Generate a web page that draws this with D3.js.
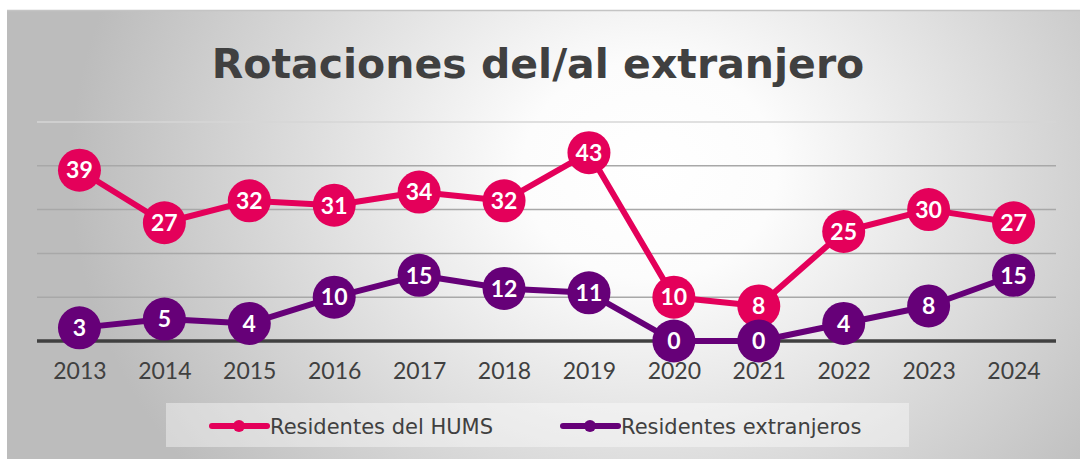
<!DOCTYPE html>
<html>
<head>
<meta charset="utf-8">
<script src="https://cdn.jsdelivr.net/npm/d3@7"></script>
<style>
  html, body { margin: 0; padding: 0; background: #fff; }
  svg { display: block; }
</style>
</head>
<body>
<div id="chart"></div>
<script>
const years = ["2013", "2014", "2015", "2016", "2017", "2018", "2019", "2020", "2021", "2022", "2023", "2024"];
const residentesHUMS = [39, 27, 32, 31, 34, 32, 43, 10, 8, 25, 30, 27];
const residentesExtranjeros = [3, 5, 4, 10, 15, 12, 11, 0, 0, 4, 8, 15];
const yTicks = [0, 10, 20, 30, 40, 50];

const series = [
  { name: "Residentes del HUMS", values: residentesHUMS, color: "#e4005a" },
  { name: "Residentes extranjeros", values: residentesExtranjeros, color: "#660078" },
];

const width = 1080;
const height = 459;
const plot = { left: 37, right: 1056, top: 122, bottom: 341 };

const svg = d3.select("#chart").append("svg")
  .attr("width", width)
  .attr("height", height);

// background with a radial gradient like the original chart area
const defs = svg.append("defs");
const grad = defs.append("radialGradient")
  .attr("id", "bg")
  .attr("gradientUnits", "userSpaceOnUse")
  .attr("cx", 650).attr("cy", 170).attr("r", 580)
  .attr("gradientTransform", "translate(650,170) scale(1,0.85) translate(-650,-170)");
grad.append("stop").attr("offset", "0%").attr("stop-color", "#ffffff");
grad.append("stop").attr("offset", "22%").attr("stop-color", "#fcfcfc");
grad.append("stop").attr("offset", "100%").attr("stop-color", "#bcbcbc");

svg.append("rect")
  .attr("x", 7).attr("y", 10)
  .attr("width", 1073).attr("height", 449)
  .attr("fill", "url(#bg)");
svg.append("line")
  .attr("x1", 7).attr("x2", 1080)
  .attr("y1", 10.5).attr("y2", 10.5)
  .attr("stroke", "#c4c4c4").attr("stroke-width", 1.5);

// title
svg.append("text")
  .attr("x", 538).attr("y", 78)
  .attr("text-anchor", "middle")
  .attr("font-family", "'DejaVu Sans', sans-serif")
  .attr("font-weight", "bold")
  .attr("font-size", 41)
  .attr("fill", "#404040")
  .text("Rotaciones del/al extranjero");

const x = d3.scalePoint()
  .domain(years)
  .range([plot.left, plot.right])
  .padding(0.5);

const y = d3.scaleLinear()
  .domain([0, 50])
  .range([plot.bottom, plot.top]);

// gridlines
svg.append("g")
  .selectAll("line")
  .data(yTicks.filter((d) => d > 0))
  .join("line")
  .attr("x1", plot.left).attr("x2", plot.right)
  .attr("y1", (d) => y(d)).attr("y2", (d) => y(d))
  .attr("stroke", (d) => (d === 50 ? "#d6d6d6" : "#a8a8a8"))
  .attr("stroke-width", 1.5);

// baseline
svg.append("line")
  .attr("x1", plot.left).attr("x2", plot.right)
  .attr("y1", y(0)).attr("y2", y(0))
  .attr("stroke", "#404040").attr("stroke-width", 3.5);

// x axis labels
const xAxis = d3.axisBottom(x).tickSize(0).tickPadding(22);
const gx = svg.append("g")
  .attr("transform", `translate(0,${y(0)})`)
  .call(xAxis);
gx.select(".domain").remove();
gx.selectAll("text")
  .attr("font-family", "Lato, sans-serif")
  .attr("font-weight", 400)
  .attr("font-size", 23)
  .attr("fill", "#404040");

const line = d3.line()
  .x((d, i) => x(years[i]))
  .y((d) => y(d));

series.forEach((s) => {
  const g = svg.append("g");
  g.append("path")
    .datum(s.values)
    .attr("d", line)
    .attr("fill", "none")
    .attr("stroke", s.color)
    .attr("stroke-width", 6)
    .attr("stroke-linejoin", "round");
  const pts = g.selectAll("g.pt")
    .data(s.values)
    .join("g")
    .attr("class", "pt")
    .attr("transform", (d, i) => `translate(${x(years[i])},${y(d)})`);
  pts.append("circle")
    .attr("r", 21.5)
    .attr("fill", s.color);
  pts.append("text")
    .attr("text-anchor", "middle")
    .attr("dy", "0.36em")
    .attr("font-family", "Lato, sans-serif")
    .attr("font-weight", "bold")
    .attr("font-size", 23)
    .attr("fill", "#fff")
    .text((d) => d);
});

// legend
const legend = svg.append("g");
legend.append("rect")
  .attr("x", 166).attr("y", 403)
  .attr("width", 743).attr("height", 44)
  .attr("fill", "#ffffff").attr("fill-opacity", 0.4);

const legendItems = [
  { s: series[0], x0: 212 },
  { s: series[1], x0: 563 },
];
legendItems.forEach(({ s, x0 }) => {
  legend.append("line")
    .attr("x1", x0).attr("x2", x0 + 55)
    .attr("y1", 426).attr("y2", 426)
    .attr("stroke", s.color).attr("stroke-width", 6)
    .attr("stroke-linecap", "round");
  legend.append("circle")
    .attr("cx", x0 + 27).attr("cy", 426).attr("r", 6)
    .attr("fill", s.color);
  legend.append("text")
    .attr("x", x0 + 58).attr("y", 426)
    .attr("dy", "0.36em")
    .attr("font-family", "'DejaVu Sans', sans-serif")
    .attr("font-size", 21)
    .attr("fill", "#404040")
    .text(s.name);
});
</script>
</body>
</html>
